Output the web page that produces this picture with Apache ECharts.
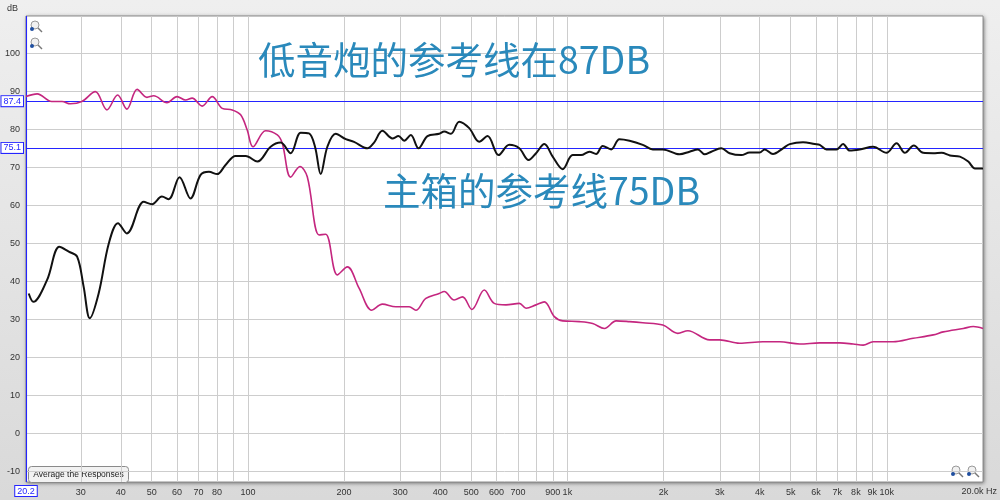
<!DOCTYPE html>
<html><head><meta charset="utf-8">
<script src="https://cdn.jsdelivr.net/npm/echarts@6/dist/echarts.min.js"></script>
<style>html,body{margin:0;padding:0;background:#e4e4e4}#c{width:1000px;height:500px}</style>
</head><body><div id="c"></div>
<script>
// Subwoofer response (magenta)
const subFreq = [20.2, 21.9, 24.3, 26.2, 27.8, 30.2, 33.3, 36.2, 39.1, 41.8, 45.0, 48.3, 50.7, 55.8, 60.0, 63.8, 66.9, 71.9, 77.3, 83.1, 89.3, 94.9, 99.5, 103.7, 113.6, 123.6, 128.1, 136.1, 145.5, 153.4, 167, 175.2, 190.5, 204.8, 222.8, 244.2, 263.6, 290.4, 319.7, 335.5, 360.6, 397, 411.6, 442.3, 469.7, 502.6, 549.4, 590.4, 642.4, 707.3, 742.3, 797.9, 847.1, 910.3, 966.7, 1091, 1200, 1306, 1421, 1565, 1722, 1990, 2217, 2383, 2787, 2996, 3461, 4095, 4619, 5338, 6166, 7123, 7843, 8428, 9059, 10464, 12091, 13972, 15018, 17348, 18649, 20000];
const subDb = [88.6, 89.3, 87.3, 87.3, 86.7, 87.3, 89.9, 85.1, 89.0, 85.3, 90.5, 88.4, 88.8, 87.0, 88.6, 87.7, 88.2, 86.1, 88.6, 85.5, 85.1, 83.8, 79.8, 75.4, 79.6, 78.5, 76.3, 67.4, 70.2, 67.5, 52.2, 52.4, 41.7, 43.8, 38.2, 32.4, 34.0, 33.3, 33.3, 32.4, 35.5, 36.8, 37.3, 35.1, 35.9, 32.6, 37.7, 34.2, 33.8, 34.2, 32.9, 33.8, 34.6, 30.7, 29.6, 29.4, 28.9, 27.6, 29.6, 29.4, 29.1, 28.5, 26.3, 27.0, 24.6, 24.6, 23.7, 24.1, 24.1, 23.5, 23.8, 23.8, 23.5, 23.2, 24.1, 24.1, 25.0, 25.9, 26.7, 27.6, 28.1, 27.6];
// Main speaker response (black)
const mainFreq = [20.6, 21.3, 23.5, 25.7, 27.5, 29.2, 30.6, 32.0, 34.1, 36.7, 39.2, 41.8, 47.2, 50.1, 53.8, 56.5, 61.1, 66.1, 71.1, 75.5, 80.1, 85.1, 91.5, 98.4, 107, 117.8, 126.6, 136.1, 146.3, 155.3, 162.2, 169, 177.3, 188.3, 202.5, 214.9, 236.6, 248.3, 263.6, 283.4, 296, 308.3, 323.6, 342, 364.9, 397, 411.6, 432, 458.6, 492.9, 529.9, 562.6, 609, 657.9, 707, 756.4, 798, 847, 899.5, 966.7, 1039, 1104, 1172, 1230, 1290, 1371, 1455, 1565, 1722, 1851, 1990, 2244, 2412, 2562, 2689, 2822, 3033, 3219, 3503, 3719, 4000, 4146, 4401, 4731, 4966, 5466, 5947, 6166, 6471, 6957, 7295, 7655, 8229, 9059, 9977, 10725, 11387, 12150, 12997, 13972, 14840, 15758, 16935, 17983, 18880, 20000];
const mainDb = [36.8, 34.6, 40.3, 49.1, 47.8, 46.5, 38.6, 30.3, 36.8, 50.0, 55.3, 52.6, 60.9, 60.3, 62.3, 61.6, 67.4, 61.8, 68.0, 68.8, 68.2, 70.6, 73.0, 73.0, 71.5, 75.4, 76.5, 73.7, 79.1, 78.9, 75.4, 68.2, 75.4, 78.8, 77.4, 76.7, 75.0, 76.5, 79.6, 77.6, 78.2, 77.0, 78.5, 75.0, 78.2, 78.8, 79.4, 78.8, 82.0, 80.3, 76.7, 78.2, 73.2, 75.9, 75.0, 71.9, 73.7, 76.1, 72.8, 69.5, 73.2, 73.2, 74.1, 73.5, 75.6, 74.7, 77.4, 77.0, 75.9, 74.7, 74.7, 73.4, 74.1, 74.7, 73.4, 74.1, 75.0, 73.7, 73.2, 73.9, 73.9, 74.7, 73.5, 75.0, 76.1, 76.6, 76.1, 75.9, 74.7, 74.7, 76.1, 74.4, 74.7, 75.4, 73.8, 76.3, 73.8, 75.7, 73.8, 73.7, 73.8, 73.1, 72.8, 71.5, 69.7, 69.7];

const refLevels = [87.4, 75.1];
const cursorFreq = 20.2;
const xMin = 20.2, xMax = 20000;
const yMin = -12.8, yMax = 109.8;
const xGridFreqs = [30, 40, 50, 60, 70, 80, 90, 100, 200, 300, 400, 500, 600, 700, 800, 900, 1000, 2000, 3000, 4000, 5000, 6000, 7000, 8000, 9000, 10000];
const xLabelFreqs = [30, 40, 50, 60, 70, 80, 100, 200, 300, 400, 500, 600, 700, 900, 1000, 2000, 3000, 4000, 5000, 6000, 7000, 8000, 9000, 10000];
const yTicks = [-10, 0, 10, 20, 30, 40, 50, 60, 70, 80, 90, 100];
const titles = ['低音炮的参考线在87DB', '主箱的参考线75DB'];
const endLabel = '20.0k Hz';
const yUnit = 'dB';
const buttonText = 'Average the Responses';

const chart = echarts.init(document.getElementById('c'));
const zip = (f, d) => f.map((v, i) => [v, d[i]]);
const fmtFreq = v => {
  const f = Math.round(Math.pow(10, v));
  return f >= 1000 ? (f / 1000) + 'k' : String(f);
};
const blue = '#2424ff';
const refLine = { color: blue, width: 1.1, type: 'solid', opacity: 1 };
const boxLabel = {
  show: true, color: blue, fontSize: 9, fontFamily: 'Liberation Sans',
  backgroundColor: '#fff', borderColor: blue, borderWidth: 1, padding: [1, 2, 0, 2], distance: 3
};

function magnifier(cx, cy) {
  return {
    type: 'group', z: 50, children: [
      { type: 'line', shape: { x1: cx + 3, y1: cy + 3, x2: cx + 7, y2: cy + 7 }, style: { stroke: '#777', lineWidth: 1.5 } },
      { type: 'circle', shape: { cx: cx, cy: cy, r: 4 }, style: { fill: 'rgba(235,235,235,0.7)', stroke: '#999', lineWidth: 1 } },
      { type: 'circle', shape: { cx: cx - 3, cy: cy + 4, r: 2 }, style: { fill: '#1f4fa0' } }
    ]
  };
}

chart.setOption({
  animation: false,
  grid: { left: 26, right: 17, top: 16, bottom: 18, show: true, backgroundColor: 'transparent', borderColor: '#8c8c8c', borderWidth: 1, outerBoundsMode: 'none' },
  xAxis: [
    { type: 'log', logBase: 10, min: xMin, max: xMax, show: false },
    {
      type: 'value', min: Math.log10(xMin), max: Math.log10(xMax), position: 'bottom',
      axisLine: { show: false },
      axisTick: { show: false, customValues: xGridFreqs.map(Math.log10) },
      axisLabel: { customValues: xLabelFreqs.map(Math.log10), formatter: fmtFreq, color: '#333', fontSize: 9, fontFamily: 'Liberation Sans', margin: 6 },
      splitLine: { show: true, lineStyle: { color: '#cdcdcd', width: 1 } }
    }
  ],
  yAxis: {
    type: 'value', min: yMin, max: yMax,
    axisLine: { show: false },
    axisTick: { show: false, customValues: yTicks },
    axisLabel: { customValues: yTicks, color: '#333', fontSize: 9, fontFamily: 'Liberation Sans', margin: 6 },
    splitLine: { show: true, lineStyle: { color: '#cdcdcd', width: 1 } }
  },
  series: [
    {
      type: 'line', xAxisIndex: 0, data: zip(subFreq, subDb), showSymbol: false, smooth: 0.35,
      lineStyle: { color: '#c4267f', width: 1.6 }, z: 3,
      markLine: {
        silent: true, symbol: ['none', 'none'], animation: false, z: 2,
        lineStyle: refLine,
        label: Object.assign({ position: 'start' }, boxLabel),
        data: refLevels.map(v => ({ yAxis: v, lineStyle: refLine, label: { formatter: String(v) } }))
          .concat([{ xAxis: cursorFreq, lineStyle: refLine, label: { formatter: String(cursorFreq), distance: 4 } }])
      }
    },
    {
      type: 'line', xAxisIndex: 0, data: zip(mainFreq, mainDb), showSymbol: false, smooth: 0.35,
      lineStyle: { color: '#111', width: 2 }, z: 4
    }
  ],
  graphic: [
    { type: 'rect', z: -20, shape: { x: 0, y: 0, width: 1000, height: 500 },
      style: { fill: { type: 'linear', x: 0, y: 0, x2: 0, y2: 1, colorStops: [{ offset: 0, color: '#efefef' }, { offset: 1, color: '#d9d9d9' }] } } },
    { type: 'rect', z: -10, shape: { x: 26, y: 16, width: 957, height: 466 },
      style: { fill: '#fff', shadowBlur: 4, shadowColor: 'rgba(0,0,0,0.55)', shadowOffsetX: 1, shadowOffsetY: 1 } },
    { type: 'text', z: 100, left: 258, top: 41, style: { text: titles[0], fill: '#2a89bb', fontSize: 37.5, fontFamily: 'Noto Sans CJK SC' } },
    { type: 'text', z: 100, left: 383, top: 172, style: { text: titles[1], fill: '#2a89bb', fontSize: 37.5, fontFamily: 'Noto Sans CJK SC' } },
    { type: 'text', z: 100, left: 7, top: 4, style: { text: yUnit, fill: '#333', fontSize: 9, fontFamily: 'Liberation Sans' } },
    { type: 'text', z: 100, right: 3, top: 487, style: { text: endLabel, fill: '#333', fontSize: 9, fontFamily: 'Liberation Sans' } },
    { type: 'group', z: 100, left: 28, top: 466, children: [
      { type: 'rect', shape: { x: 0, y: 0, width: 100, height: 16, r: 3 }, style: { fill: '#f2f2f2', stroke: '#8a8a8a', lineWidth: 1 } },
      { type: 'text', style: { x: 50, y: 8.5, text: buttonText, fill: '#222', fontSize: 8.5, fontFamily: 'Liberation Sans', align: 'center', verticalAlign: 'middle' } }
    ] },
    magnifier(35, 25), magnifier(35, 42), magnifier(956, 470), magnifier(972, 470)
  ]
});
</script>
</body></html>
